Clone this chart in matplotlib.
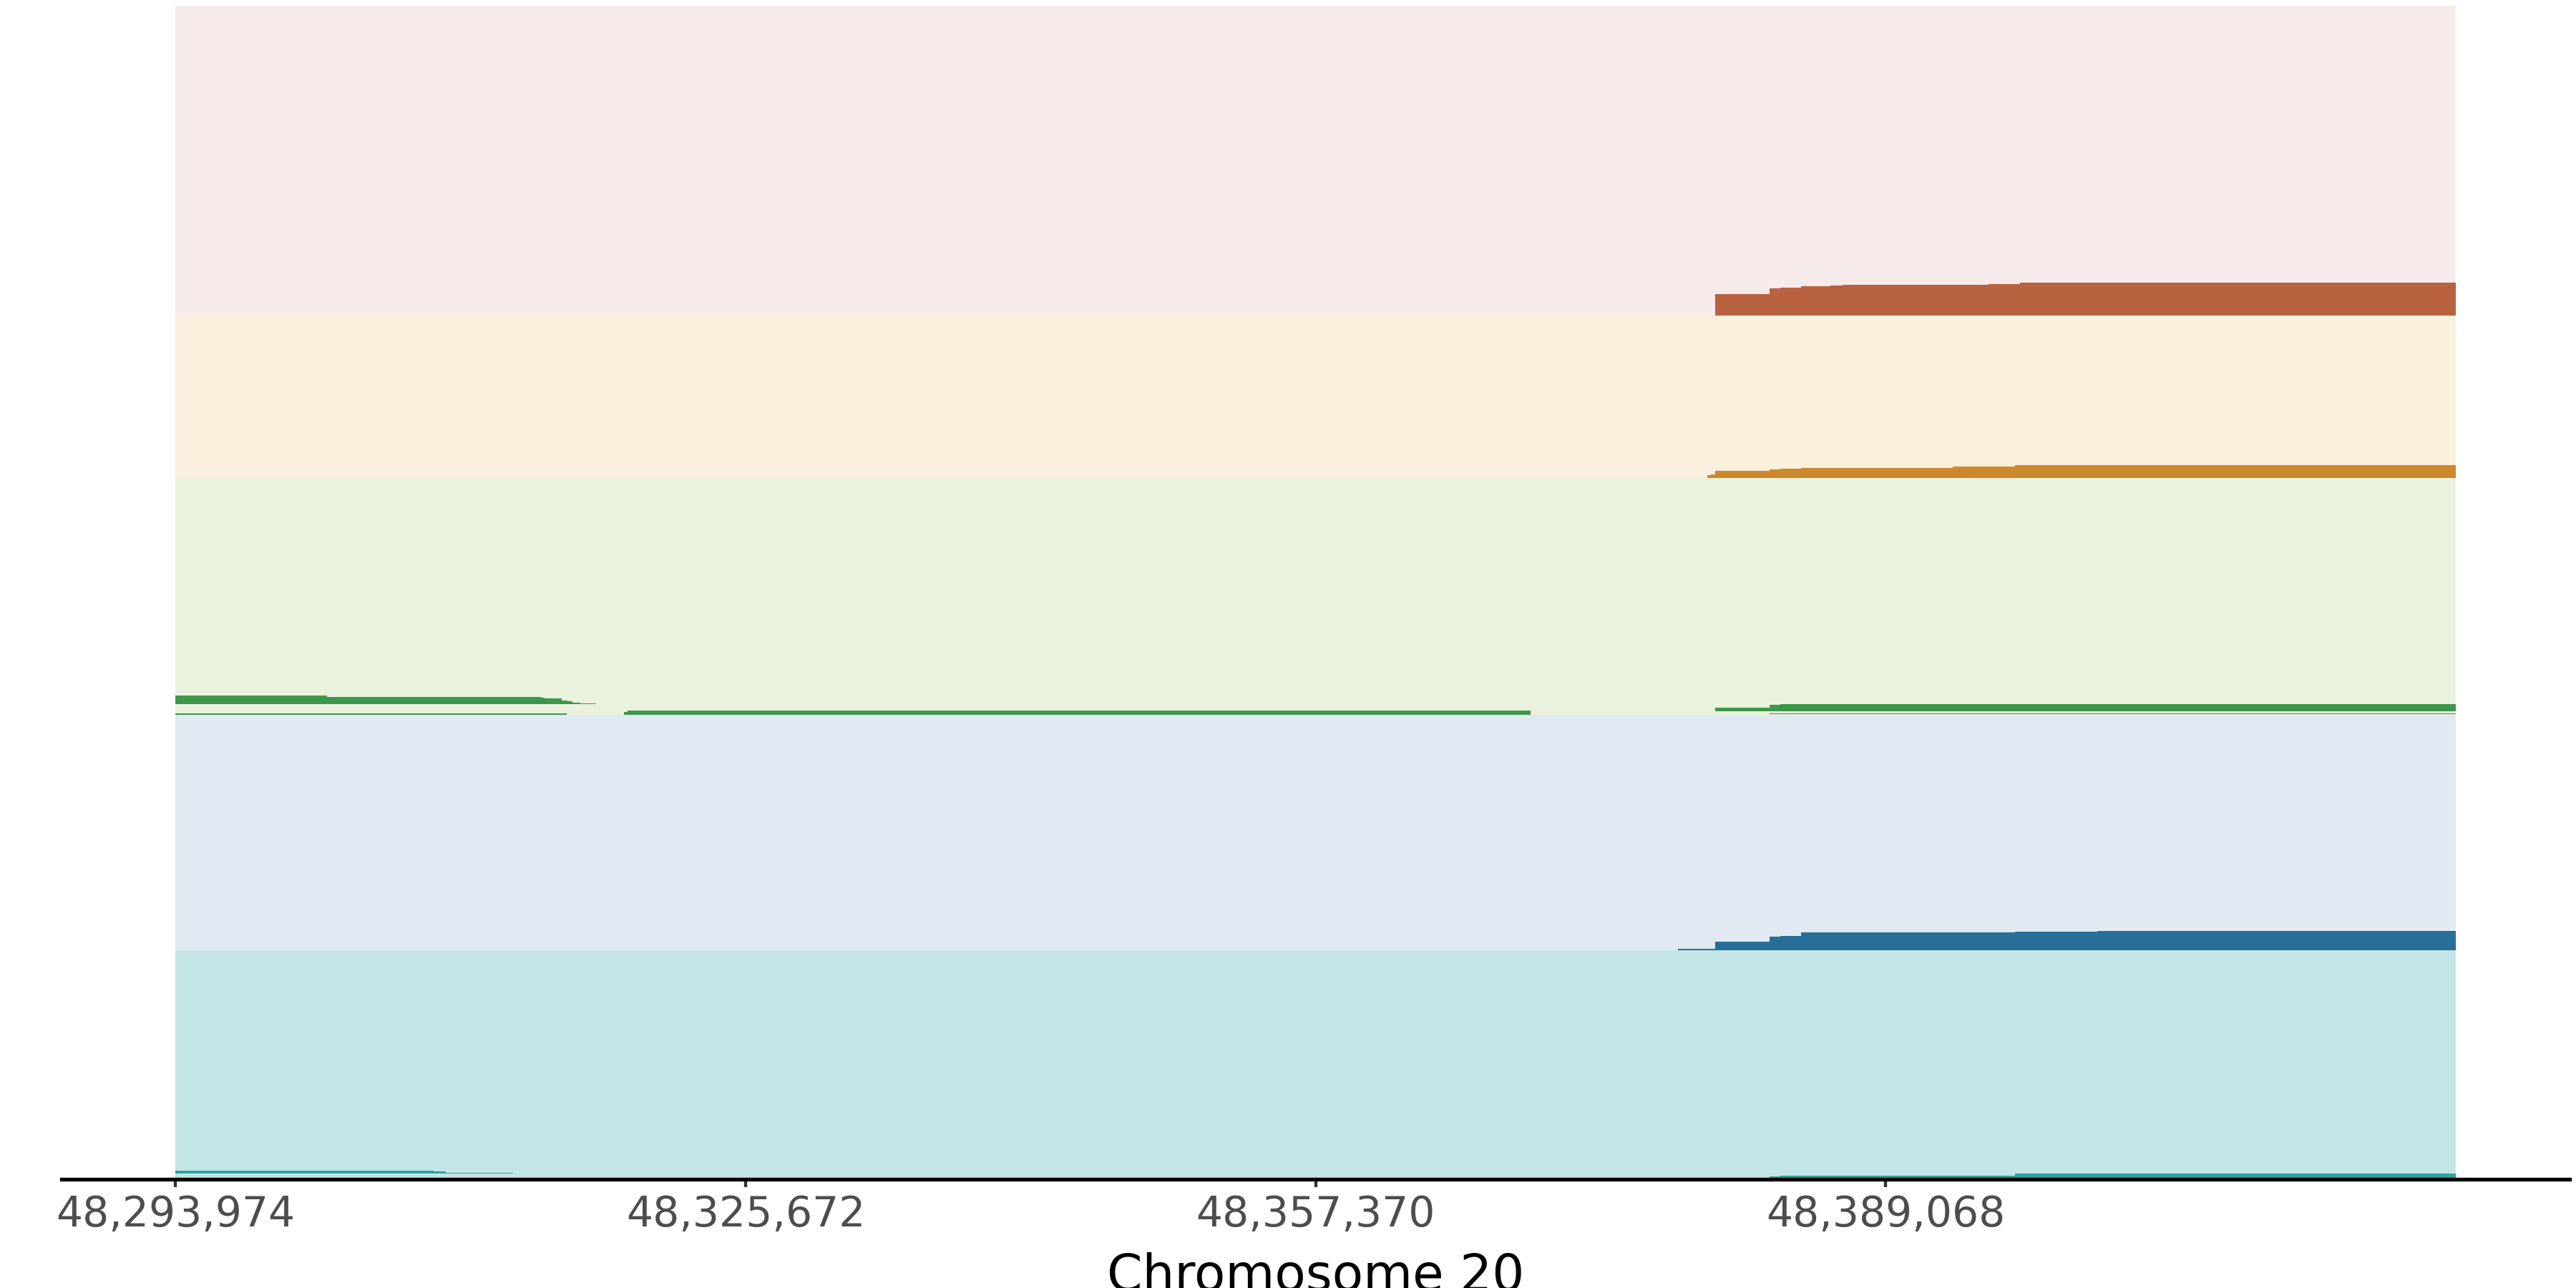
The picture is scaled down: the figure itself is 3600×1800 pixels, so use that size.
import numpy as np
import matplotlib
matplotlib.use('Agg')
from matplotlib import pyplot as plt

# region shown on chromosome 20
start = 48293974
end = 48420766
ticks = [48293974, 48325672, 48357370, 48389068]

# track heights, bottom to top
tracks = ['teal', 'blue', 'green', 'beige', 'pink']
heights = [320, 329, 331, 227, 433]
bg_colors = ['#c4e5e6', '#e1eaf2', '#eaf2dd', '#fbefdd', '#f7ebeb']
fg_colors = ['#2ba39c', '#276e98', '#3d974a', '#cd892d', '#b9623f']

# step layers: edges, bottoms, tops (relative to the track base)
pink_x = [48379591, 48382635, 48383212, 48384366, 48385997, 48386673,
          48394789, 48396261, 48396540, 48400856, 48420766]
pink_lo = [0] * 10
pink_hi = [30, 37.7, 39.3, 40.7, 41.7, 42.7, 43.7, 44.5, 45.7, 46.3]

beige_x = [48379146, 48379341, 48379591, 48382635, 48383212, 48384366,
           48386673, 48392800, 48394789, 48396261, 48397733, 48420766]
beige_lo = [0] * 11
beige_hi = [4.3, 5.3, 10.3, 12, 13, 14, 14.3, 15.7, 16.3, 17.7, 18]

green_a_x = [48293974, 48315736, 48318919, 48319118, 48369327]
green_a_lo = [0.5, 0.8, 0.5, 0.5]
green_a_hi = [2, 1.4, 3.7, 5.7]

green_b_x = [48293974, 48302397, 48314296, 48314511, 48315450, 48315752,
             48316039, 48316480, 48317368]
green_b_lo = [15.3] * 8
green_b_hi = [27.3, 25.3, 24.3, 23, 20, 18.7, 17.3, 16]

green_c_x = [48382635, 48420766]
green_c_lo = [0.8]
green_c_hi = [2]

green_d_x = [48379591, 48382635, 48383212, 48420766]
green_d_lo = [5, 5, 5]
green_d_hi = [10, 14, 15]

blue_x = [48377542, 48379591, 48382635, 48383212, 48384366, 48396261,
          48400856, 48420766]
blue_lo = [0] * 7
blue_hi = [1.7, 11.7, 19, 19.7, 25, 26, 26.7]

teal_a_x = [48293974, 48308336, 48309013, 48312753]
teal_a_lo = [8, 8, 8]
teal_a_hi = [12.3, 11, 9.3]

teal_b_x = [48382635, 48383212, 48396261, 48420766]
teal_b_lo = [0, 0, 0]
teal_b_hi = [3.7, 5, 8]

layers = {
    'pink': [(pink_x, pink_lo, pink_hi)],
    'beige': [(beige_x, beige_lo, beige_hi)],
    'green': [(green_a_x, green_a_lo, green_a_hi),
              (green_b_x, green_b_lo, green_b_hi),
              (green_c_x, green_c_lo, green_c_hi),
              (green_d_x, green_d_lo, green_d_hi)],
    'blue': [(blue_x, blue_lo, blue_hi)],
    'teal': [(teal_a_x, teal_a_lo, teal_a_hi),
             (teal_b_x, teal_b_lo, teal_b_hi)],
}

fig = plt.figure(figsize=(12, 6), dpi=300)
ax = fig.add_axes([0.02389, 0.08444, 0.97361, 0.91111])

bases = np.concatenate([[0], np.cumsum(heights)[:-1]])
for name, base, h, bg, fg in zip(tracks, bases, heights, bg_colors, fg_colors):
    ax.fill_between([start, end], base, base + h, color=bg, lw=0, zorder=1)
    for x, lo, hi in layers[name]:
        lo = base + np.append(lo, lo[-1])
        hi = base + np.append(hi, hi[-1])
        ax.fill_between(x, lo, hi, step='post', color=fg, lw=0, zorder=2)

ax.set_ylim(0, sum(heights))
ax.margins(x=0.05)
ax.set_yticks([])
for s in ['top', 'left', 'right']:
    ax.spines[s].set_visible(False)
ax.spines['bottom'].set_linewidth(1.28)
ax.spines['bottom'].set_color('black')
ax.spines['bottom'].set_zorder(5)
ax.set_xticks(ticks, [f'{t:,}' for t in ticks])
ax.tick_params(axis='x', length=2.7, width=1.05, color='#333333',
               labelcolor='#4d4d4d', labelsize=14, pad=2.4)
ax.set_xlabel('Chromosome 20', fontsize=17, color='black', labelpad=5.6)

fig.savefig('out.png', dpi=300)
